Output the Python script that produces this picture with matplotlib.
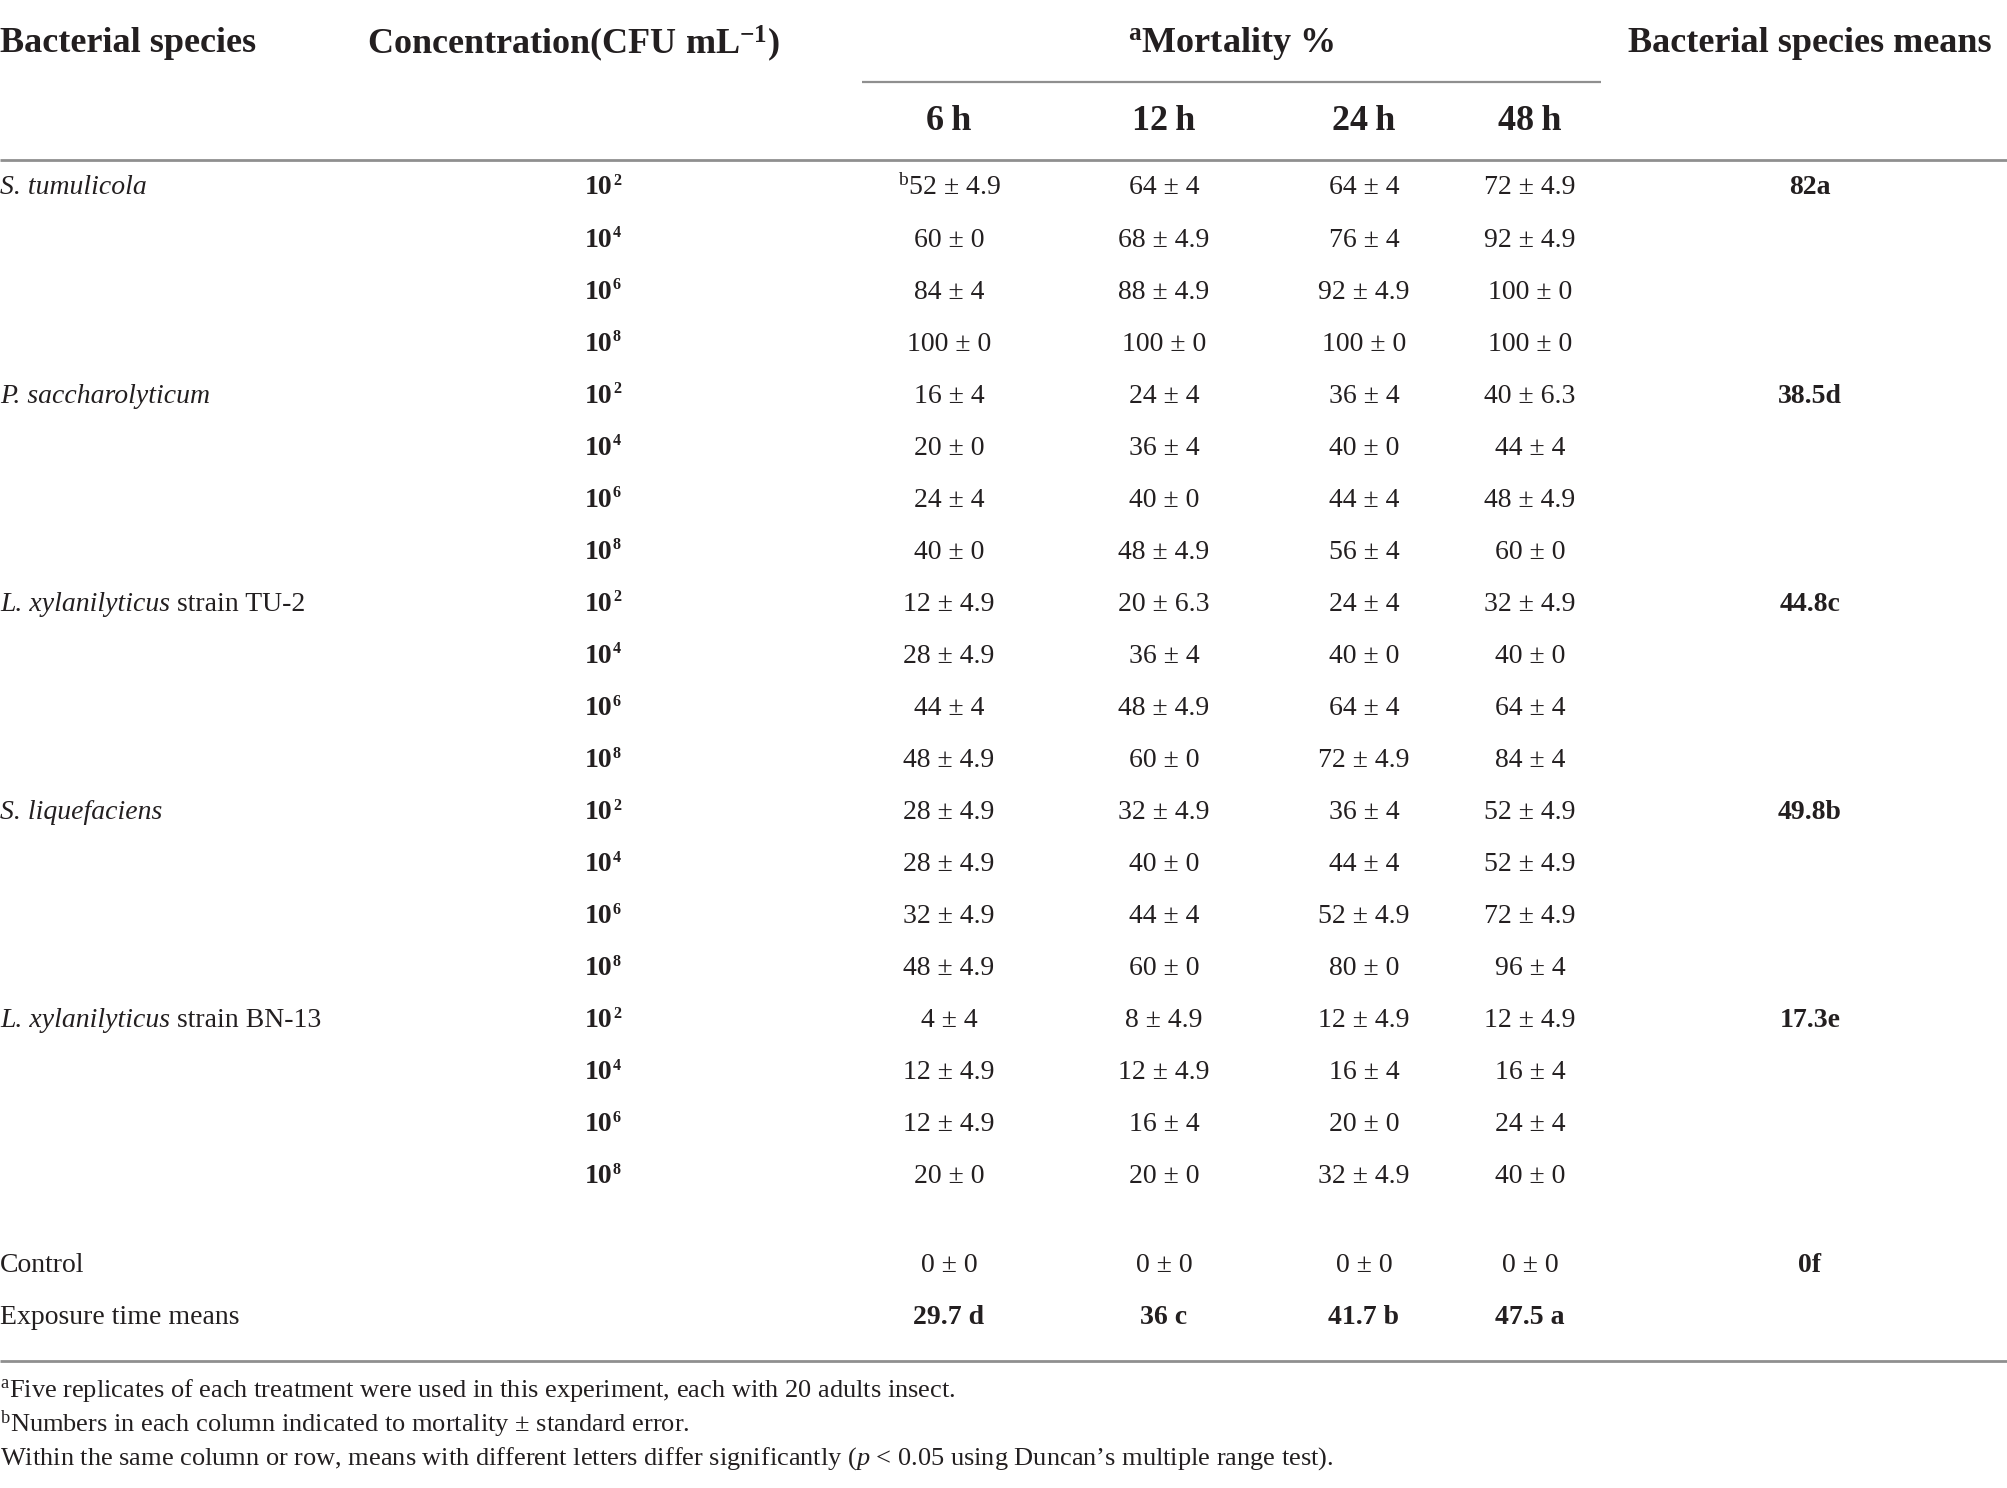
import matplotlib
matplotlib.use("Agg")
import matplotlib.pyplot as plt

plt.rcParams['font.family'] = ['Liberation Serif', 'DejaVu Serif']
plt.rcParams['mathtext.fontset'] = 'custom'
plt.rcParams['mathtext.rm'] = 'Liberation Serif'
plt.rcParams['mathtext.it'] = 'Liberation Serif:italic'
plt.rcParams['mathtext.bf'] = 'Liberation Serif:bold'

# ---------------- data ----------------
species_italic = ["S. tumulicola", "P. saccharolyticum", "L. xylanilyticus",
                  "S. liquefaciens", "L. xylanilyticus"]
species_suffix = ["", "", " strain TU-2", "", " strain BN-13"]
species_means = ["82a", "38.5d", "44.8c", "49.8b", "17.3e"]
conc_exponents = ["2", "4", "6", "8"]
time_labels = ["6\u2009h", "12\u2009h", "24\u2009h", "48\u2009h"]

# mortality mean per row (species x concentration), columns = 6h,12h,24h,48h
mort_mean = [
    [52, 64, 64, 72], [60, 68, 76, 92], [84, 88, 92, 100], [100, 100, 100, 100],
    [16, 24, 36, 40], [20, 36, 40, 44], [24, 40, 44, 48], [40, 48, 56, 60],
    [12, 20, 24, 32], [28, 36, 40, 40], [44, 48, 64, 64], [48, 60, 72, 84],
    [28, 32, 36, 52], [28, 40, 44, 52], [32, 44, 52, 72], [48, 60, 80, 96],
    [4, 8, 12, 12], [12, 12, 16, 16], [12, 16, 20, 24], [20, 20, 32, 40],
]
mort_se = [
    [4.9, 4, 4, 4.9], [0, 4.9, 4, 4.9], [4, 4.9, 4.9, 0], [0, 0, 0, 0],
    [4, 4, 4, 6.3], [0, 4, 0, 4], [4, 0, 4, 4.9], [0, 4.9, 4, 0],
    [4.9, 6.3, 4, 4.9], [4.9, 4, 0, 0], [4, 4.9, 4, 4], [4.9, 0, 4.9, 4],
    [4.9, 4.9, 4, 4.9], [4.9, 0, 4, 4.9], [4.9, 4, 4.9, 4.9], [4.9, 0, 0, 4],
    [4, 4.9, 4.9, 4.9], [4.9, 4.9, 4, 4], [4.9, 4, 0, 4], [0, 0, 4.9, 0],
]
control_mean = [0, 0, 0, 0]
control_se = [0, 0, 0, 0]
control_species_mean = "0f"
exposure_means = ["29.7 d", "36 c", "41.7 b", "47.5 a"]

footnotes = [
    r"$^{\mathrm{a}}$Five replicates of each treatment were used in this experiment, each with 20 adults insect.",
    r"$^{\mathrm{b}}$Numbers in each column indicated to mortality ± standard error.",
    r"Within the same column or row, means with different letters differ significantly ($\mathit{p}$ < 0.05 using Duncan’s multiple range test).",
]

# ---------------- layout ----------------
W, H = 2008, 1488
fig = plt.figure(figsize=(W / 100, H / 100), dpi=100)
ax = fig.add_axes([0, 0, 1, 1])
ax.set_xlim(0, W)
ax.set_ylim(H, 0)
ax.axis('off')
renderer = fig.canvas.get_renderer()

TXT = '#231f20'
LINE = '#8f8f8f'
HS = 26     # header font size
BS = 20     # body font size
FS = 19     # footnote font size

x_species = 0
x_conc_right = 612
x_time = [949, 1164, 1364, 1530]
x_means = 1810

# header
y_h1, y_h2 = 44, 121
ax.text(x_species, y_h1, "Bacterial species", fontsize=HS, fontweight='bold',
        color=TXT, ha='left', va='center')
ax.text(573, y_h1, r"Concentration(CFU mL$^{\mathbf{-1}}$)", fontsize=HS,
        fontweight='bold', color=TXT, ha='center', va='center')
ax.text(1231, y_h1, r"$^{\mathbf{a}}$Mortality %", fontsize=HS, fontweight='bold',
        color=TXT, ha='center', va='center')
ax.text(x_means, y_h1, "Bacterial species means", fontsize=HS, fontweight='bold',
        color=TXT, ha='center', va='center')
for x, t in zip(x_time, time_labels):
    ax.text(x, y_h2, t, fontsize=HS, fontweight='bold', color=TXT,
            ha='center', va='center')

ax.plot([862, 1601], [82, 82], color=LINE, lw=1.6, solid_capstyle='butt')
ax.plot([0, W], [160, 160], color=LINE, lw=2.0, solid_capstyle='butt')
ax.plot([0, W], [1361, 1361], color=LINE, lw=2.0, solid_capstyle='butt')

inv = ax.transData.inverted()

# body rows
y0, dy = 188, 52.05
n_conc = len(conc_exponents)
for s in range(len(species_italic)):
    ys = y0 + s * n_conc * dy
    t = ax.text(x_species, ys, species_italic[s], fontsize=BS, style='italic',
                color=TXT, ha='left', va='center')
    if species_suffix[s]:
        bb = t.get_window_extent(renderer=renderer)
        xr = inv.transform((bb.x1, bb.y0))[0]
        ax.text(xr, ys, species_suffix[s], fontsize=BS, color=TXT,
                ha='left', va='center')
    ax.text(x_means, ys, species_means[s], fontsize=BS, fontweight='bold',
            color=TXT, ha='center', va='center')
    for c, e in enumerate(conc_exponents):
        r = s * n_conc + c
        y = y0 + r * dy
        ax.text(x_conc_right, y, "10", fontsize=BS, fontweight='bold',
                color=TXT, ha='right', va='center')
        ax.text(x_conc_right + 1, y - 7, e, fontsize=BS * 0.58, fontweight='bold',
                color=TXT, ha='left', va='center')
        for j in range(len(x_time)):
            m = mort_mean[r][j]
            se = mort_se[r][j]
            txt = f"{m:g} ± {se:g}"
            if r == 0 and j == 0:
                txt = r"$^{\mathrm{b}}$" + txt
            ax.text(x_time[j], y, txt, fontsize=BS, color=TXT,
                    ha='center', va='center')

# control & exposure rows
y_ctrl, y_exp = 1266, 1317
ax.text(x_species, y_ctrl, "Control", fontsize=BS, color=TXT, ha='left', va='center')
for j in range(len(x_time)):
    ax.text(x_time[j], y_ctrl, f"{control_mean[j]:g} ± {control_se[j]:g}",
            fontsize=BS, color=TXT, ha='center', va='center')
ax.text(x_means, y_ctrl, control_species_mean, fontsize=BS, fontweight='bold',
        color=TXT, ha='center', va='center')
ax.text(x_species, y_exp, "Exposure time means", fontsize=BS, color=TXT,
        ha='left', va='center')
for j in range(len(x_time)):
    ax.text(x_time[j], y_exp, exposure_means[j], fontsize=BS, fontweight='bold',
            color=TXT, ha='center', va='center')

# footnotes
for k, (fy, ft) in enumerate(zip([1390, 1424, 1459], footnotes)):
    ax.text(0, fy, ft, fontsize=FS, color=TXT, ha='left', va='center')

fig.savefig("out.png", dpi=100, facecolor='white')
